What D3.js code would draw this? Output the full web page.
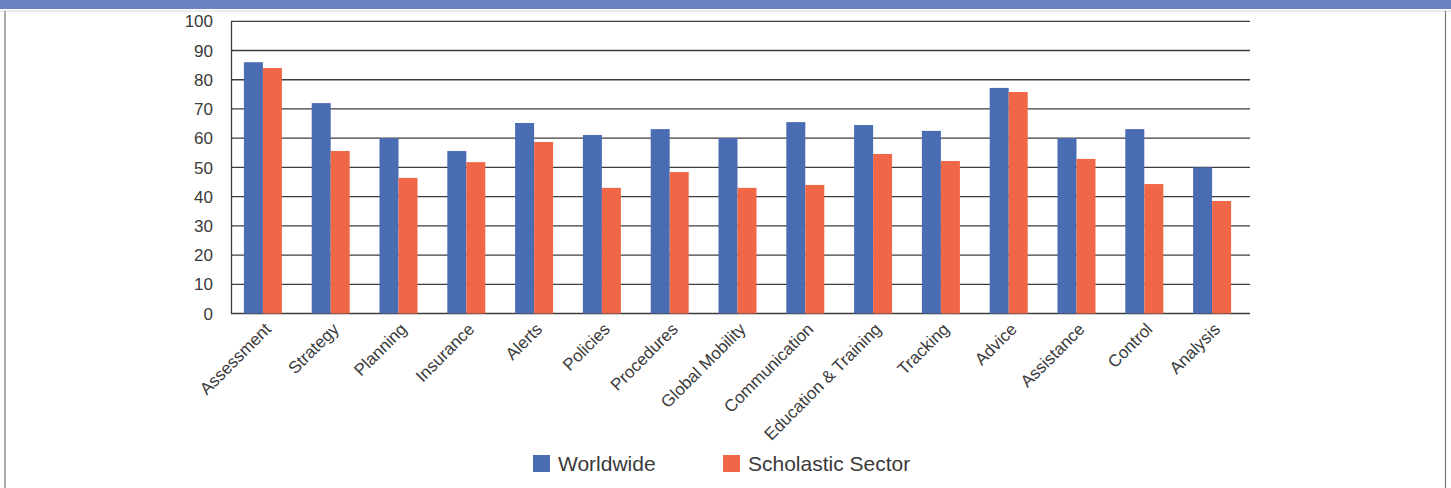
<!DOCTYPE html>
<html>
<head>
<meta charset="utf-8">
<script src="https://cdn.jsdelivr.net/npm/d3@7"></script>
<style>
  body { margin: 0; background: #fff; }
  svg { display: block; font-family: "Liberation Sans", Arial, sans-serif; }
</style>
</head>
<body>
<svg id="chart" width="1451" height="488"></svg>
<script>
const categories = ['Assessment', 'Strategy', 'Planning', 'Insurance', 'Alerts', 'Policies',
  'Procedures', 'Global Mobility', 'Communication', 'Education & Training', 'Tracking',
  'Advice', 'Assistance', 'Control', 'Analysis'];
const worldwide = [86, 72, 60, 55.6, 65.2, 61.1, 63.1, 60, 65.5, 64.5, 62.5, 77.2, 60, 63.1, 50];
const scholastic = [84, 55.6, 46.4, 51.8, 58.7, 43, 48.4, 43, 44, 54.6, 52.2, 75.8, 52.9, 44.3, 38.5];
const seriesNames = ['Worldwide', 'Scholastic Sector'];
const yTicks = [0, 10, 20, 30, 40, 50, 60, 70, 80, 90, 100];

const colors = ['#4a6cb3', '#f06748'];
const svg = d3.select('#chart');

// frame
svg.append('rect').attr('x', 0).attr('y', 0).attr('width', 1451).attr('height', 9).attr('fill', '#6c82c0');
svg.append('line').attr('x1', 0).attr('x2', 1451).attr('y1', 11).attr('y2', 11)
  .attr('stroke', '#d3dbe6').attr('stroke-width', 1);
svg.append('line').attr('x1', 5).attr('x2', 5).attr('y1', 11).attr('y2', 488)
  .attr('stroke', '#777').attr('stroke-width', 1.2);
svg.append('line').attr('x1', 1445.5).attr('x2', 1445.5).attr('y1', 11).attr('y2', 488)
  .attr('stroke', '#777').attr('stroke-width', 1.2);

const x = d3.scaleBand().domain(categories).range([229, 1246]);
const groupW = 38;
const x1 = d3.scaleBand().domain([0, 1]).range([0, groupW]);
const y = d3.scaleLinear().domain([0, 100]).range([313.5, 21.3]);

// gridlines
svg.append('g')
  .selectAll('line')
  .data(yTicks)
  .join('line')
  .attr('x1', 231)
  .attr('x2', 1250)
  .attr('y1', d => y(d))
  .attr('y2', d => y(d))
  .attr('stroke', '#3d3d3d')
  .attr('stroke-width', 1.3);

// y axis line
svg.append('line').attr('x1', 231.5).attr('x2', 231.5).attr('y1', y(100)).attr('y2', y(0))
  .attr('stroke', '#3d3d3d').attr('stroke-width', 1.3);

// y tick labels
svg.append('g')
  .selectAll('text')
  .data(yTicks)
  .join('text')
  .attr('x', 213)
  .attr('y', d => y(d))
  .attr('dy', '0.36em')
  .attr('text-anchor', 'end')
  .attr('font-size', 17)
  .attr('fill', '#3a3a3a')
  .text(d => d);

// bars
const series = [worldwide, scholastic];
const groups = svg.append('g')
  .selectAll('g')
  .data(categories)
  .join('g')
  .attr('transform', d => `translate(${x(d) + (x.bandwidth() - groupW) / 2},0)`);

groups.selectAll('rect')
  .data((d, i) => series.map((s, k) => ({ k, v: s[i] })))
  .join('rect')
  .attr('x', d => x1(d.k))
  .attr('y', d => y(d.v))
  .attr('width', x1.bandwidth())
  .attr('height', d => y(0) - y(d.v))
  .attr('fill', d => colors[d.k]);

// x labels
svg.append('g')
  .selectAll('text')
  .data(categories)
  .join('text')
  .attr('transform', d => `translate(${x(d) + x.bandwidth() / 2 + 5},326) rotate(-45)`)
  .attr('text-anchor', 'end')
  .attr('dy', '0.35em')
  .attr('font-size', 17)
  .attr('fill', '#3a3a3a')
  .text(d => d);

// legend
const legendX = [533, 723];
const legend = svg.append('g')
  .selectAll('g')
  .data(seriesNames)
  .join('g')
  .attr('transform', (d, i) => `translate(${legendX[i]},455)`);
legend.append('rect')
  .attr('width', 17)
  .attr('height', 17)
  .attr('fill', (d, i) => colors[i]);
legend.append('text')
  .attr('x', 25)
  .attr('y', 16)
  .attr('font-size', 21)
  .attr('fill', '#3a3a3a')
  .text(d => d);
</script>
</body>
</html>
